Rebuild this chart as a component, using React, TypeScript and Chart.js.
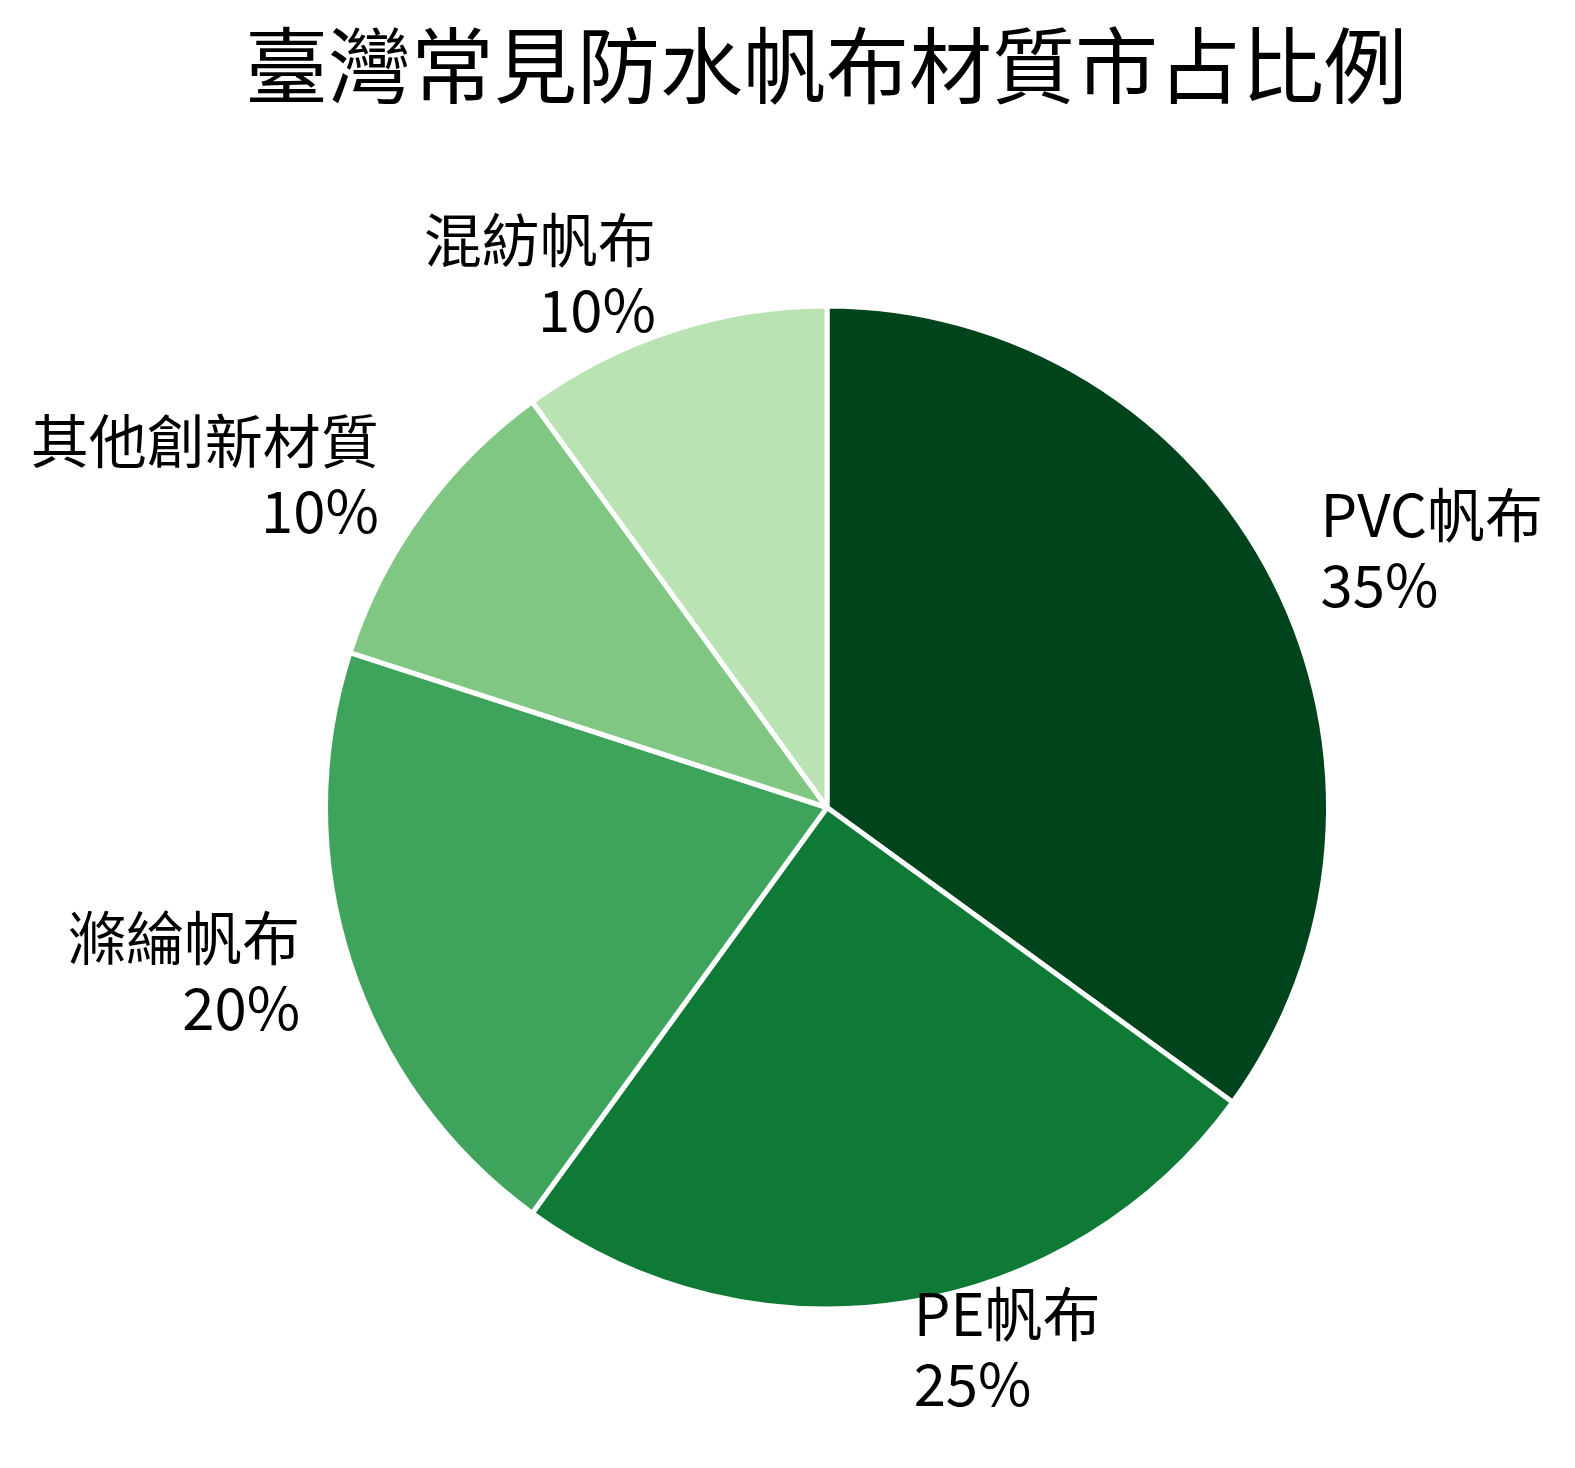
import { useEffect, useRef } from "react";
import { Chart, registerables } from "chart.js";

Chart.register(...registerables);

const title = "臺灣常見防水帆布材質市占比例";
const categories = ["PVC帆布", "PE帆布", "滌綸帆布", "其他創新材質", "混紡帆布"];
const shares = [35, 25, 20, 10, 10];
const sliceColors = ["#00441b", "#0f7a36", "#3ea45b", "#81c784", "#b9e3b2"];

const FONT = '"Noto Sans CJK TC", "Noto Sans", sans-serif';
const CENTER_X = 827;
const CENTER_Y = 807.5;
const BORDER = 5;
const PIE_R = 499;

// title and outside labels, matplotlib style
const pieText = {
	id: "pieText",
	afterDraw(chart: Chart) {
		const ctx = chart.ctx;
		ctx.save();
		ctx.fillStyle = "#000";
		ctx.font = `83px ${FONT}`;
		ctx.textAlign = "center";
		ctx.textBaseline = "middle";
		ctx.fillText(title, 826, 65);

		ctx.font = `58px ${FONT}`;
		const meta = chart.getDatasetMeta(0);
		meta.data.forEach((el: any, i: number) => {
			const { startAngle, endAngle, x, y } = el.getProps(["startAngle", "endAngle", "x", "y"], true);
			const mid = (startAngle + endAngle) / 2;
			const r = 554;
			const ax = x + Math.cos(mid) * r;
			const ay = y + Math.sin(mid) * r;
			ctx.textAlign = Math.cos(mid) >= 0 ? "left" : "right";
			ctx.fillText(categories[i], ax, ay - 41);
			ctx.fillText(`${shares[i]}%`, ax, ay + 29);
		});
		ctx.restore();
	},
};

export default function App() {
	const canvasRef = useRef<HTMLCanvasElement | null>(null);

	useEffect(() => {
		if (!canvasRef.current) {
			return;
		}
		document.body.style.margin = "0";

		const left = 250;
		const top = 200;
		const w = 2 * (CENTER_X - left);
		const h = 2 * (CENTER_Y - top);

		const chart = new Chart(canvasRef.current, {
			type: "pie",
			data: {
				labels: categories,
				datasets: [
					{
						data: shares,
						backgroundColor: sliceColors,
						borderColor: "#ffffff",
						borderWidth: BORDER,
						hoverBorderWidth: BORDER,
						hoverOffset: 0,
						radius: PIE_R + BORDER / 2,
					},
				],
			},
			options: {
				responsive: false,
				animation: false,
				devicePixelRatio: 1,
				layout: {
					padding: { left, top, right: 1575 - left - w, bottom: 1468 - top - h },
				},
				plugins: {
					legend: { display: false },
					tooltip: { enabled: false },
				},
			},
			plugins: [pieText],
		});

		return () => {
			chart.destroy();
		};
	}, []);

	return (
		<div style={{ width: 1575, height: 1468, background: "#fff" }}>
			<canvas ref={canvasRef} width={1575} height={1468} style={{ display: "block" }} />
		</div>
	);
}
